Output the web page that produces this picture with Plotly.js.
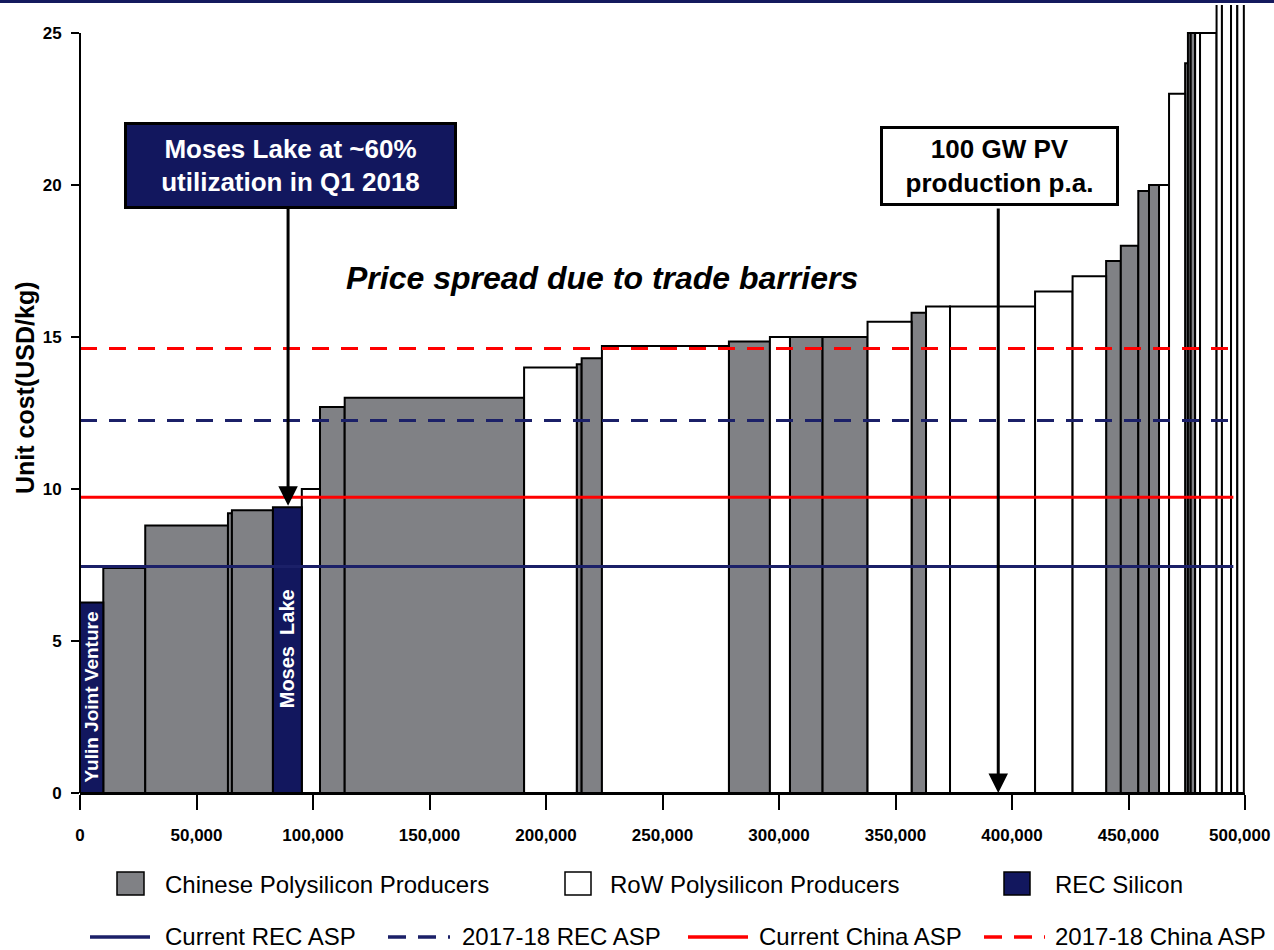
<!DOCTYPE html>
<html>
<head>
<meta charset="utf-8">
<script src="https://cdn.plot.ly/plotly-3.0.1.min.js"></script>
<style>
  html, body { margin: 0; padding: 0; background: #fff; }
  #topband { position: absolute; left: 0; top: 0; width: 1274px; height: 3px; background: #141a5e; z-index: 5; }
  #chart { position: absolute; left: 0; top: 0; width: 1274px; height: 950px; }
</style>
</head>
<body>
<div id="topband"></div>
<div id="chart"></div>
<script>
// ---- data ----
const capacity = [10000, 18000, 35500, 1700, 17600, 12400, 7800, 10600, 77000, 22600,
                  2100, 8700, 54500, 17600, 8600, 14000, 19300, 18900, 6200, 10300,
                  36500, 16100, 14400, 6300, 7500, 4600, 4300, 4300, 6900, 1200,
                  1200, 1900, 2100, 7100, 2300, 3900, 2700, 2800];
const unitCost = [6.27, 7.4, 8.8, 9.2, 9.3, 9.4, 10.0, 12.7, 13.0, 14.0,
                  14.1, 14.3, 14.7, 14.85, 15.0, 15.0, 15.0, 15.5, 15.8, 16.0,
                  16.0, 16.5, 17.0, 17.5, 18.0, 19.8, 20.0, 20.0, 23.0, 24.0,
                  25.0, 25.0, 25.0, 25.0, 30.0, 35.0, 40.0, 45.0];
const producerGroup = ['REC','CN','CN','CN','CN','REC','RoW','CN','CN','RoW',
                       'CN','CN','RoW','CN','RoW','CN','CN','RoW','CN','RoW',
                       'RoW','RoW','RoW','CN','CN','CN','CN','RoW','RoW','CN',
                       'CN','CN','RoW','RoW','RoW','RoW','RoW','RoW'];
const groupNames = {CN: 'Chinese Polysilicon Producers', RoW: 'RoW Polysilicon Producers', REC: 'REC Silicon'};
const aspNames  = ['Current REC ASP', '2017-18 REC ASP', 'Current China ASP', '2017-18 China ASP'];
const aspValues = [7.45, 12.25, 9.73, 14.62];
const aspExtent = [0, 495000];
const xTickVals = [0, 50000, 100000, 150000, 200000, 250000, 300000, 350000, 400000, 450000, 500000];
const xTickText = ['0', '50,000', '100,000', '150,000', '200,000', '250,000', '300,000', '350,000', '400,000', '450,000', '500,000'];
const yTickVals = [0, 5, 10, 15, 20, 25];
const recLabels = [{name: 'Yulin Joint Venture', idx: 0, y: 3.16, size: 19}, {name: 'Moses  Lake', idx: 5, y: 4.74, size: 20}];
const mosesArrowX = 89300, pvArrowX = 394100;

// ---- styles ----
const NAVY = '#12175e', GRAY = '#808185', RED = '#ff0000', LNAVY = '#1b2068';
const FONT = 'Liberation Sans, Arial, Helvetica, sans-serif';
const fills = {CN: GRAY, RoW: '#ffffff', REC: NAVY};

// cumulative positions
const starts = [];
let acc = 0;
capacity.forEach(c => { starts.push(acc); acc += c; });
const mids = capacity.map((c, i) => starts[i] + c / 2);

const traces = [];
['CN', 'RoW', 'REC'].forEach(g => {
  const idx = producerGroup.map((p, i) => p === g ? i : -1).filter(i => i >= 0);
  traces.push({
    type: 'bar', name: groupNames[g],
    x: idx.map(i => mids[i]), y: idx.map(i => unitCost[i]), width: idx.map(i => capacity[i]),
    marker: {color: fills[g], line: {color: '#000', width: 2}},
    showlegend: false, hoverinfo: 'skip'
  });
});
const aspStyles = [
  {color: LNAVY, dash: 'solid'}, {color: LNAVY, dash: '17px,12px'},
  {color: RED, dash: 'solid'}, {color: RED, dash: '17px,12px'}
];
aspNames.forEach((n, i) => {
  traces.push({
    type: 'scatter', mode: 'lines', name: n,
    x: aspExtent, y: [aspValues[i], aspValues[i]],
    line: {color: aspStyles[i].color, width: 3, dash: aspStyles[i].dash},
    showlegend: false, hoverinfo: 'skip'
  });
});

// pixel helpers for placement (paper coords)
const L = 80, R = 29, T = 5, B = 157, W = 1274, H = 950;
const pw = W - L - R, ph = H - T - B;
const YMAX = 25.92;
const px = v => (v - L) / pw;
const py = v => (H - B - v) / ph;
const pyData = v => (H - B - v) / (ph / YMAX);

const shapes = [
  {type: 'line', xref: 'paper', yref: 'y', x0: 0, x1: 0, y0: 0, y1: 25, line: {color: '#000', width: 2}}
];
const annotations = [];

// last x tick label kept inside the page (right-aligned at the edge)
const lastTick = xTickText.length - 1;
annotations.push({
  x: px(1272), y: py(835), xref: 'paper', yref: 'paper', xanchor: 'right', yanchor: 'middle', showarrow: false,
  text: xTickText[lastTick], font: {family: FONT, size: 17, color: '#000', weight: 700}
});

// REC bar labels
recLabels.forEach(r => {
  annotations.push({
    x: mids[r.idx], y: r.y, xref: 'x', yref: 'y', xanchor: 'center', yanchor: 'middle',
    text: r.name, textangle: -90, showarrow: false,
    font: {family: FONT, size: r.size, color: '#fff', weight: 700}
  });
});
// call-out boxes
annotations.push({
  x: px(290), y: py(165.3), xref: 'paper', yref: 'paper', xanchor: 'center', yanchor: 'middle', showarrow: false,
  text: 'Moses Lake at ~60%<br>utilization in Q1 2018',
  font: {family: FONT, size: 26, color: '#fff', weight: 700},
  bgcolor: NAVY, bordercolor: '#000', borderwidth: 3, borderpad: 0,
  width: 327, height: 81, align: 'center', valign: 'middle'
});
annotations.push({
  x: px(999), y: py(165.8), xref: 'paper', yref: 'paper', xanchor: 'center', yanchor: 'middle', showarrow: false,
  text: '100 GW PV<br>production p.a.',
  font: {family: FONT, size: 26, color: '#000', weight: 700},
  bgcolor: '#fff', bordercolor: '#000', borderwidth: 3, borderpad: 0,
  width: 233, height: 74, align: 'center', valign: 'middle'
});
// arrows
annotations.push({
  x: mosesArrowX, y: unitCost[5] + 0.05, xref: 'x', yref: 'y',
  ax: mosesArrowX, ay: pyData(207), axref: 'x', ayref: 'y',
  text: '', showarrow: true, arrowhead: 2, arrowsize: 1.3, arrowwidth: 3, arrowcolor: '#000', standoff: 0
});
annotations.push({
  x: pvArrowX, y: 0, xref: 'x', yref: 'y',
  ax: pvArrowX, ay: pyData(207), axref: 'x', ayref: 'y',
  text: '', showarrow: true, arrowhead: 2, arrowsize: 1.3, arrowwidth: 3, arrowcolor: '#000', standoff: 0
});
// price spread text
annotations.push({
  x: px(602), y: py(278), xref: 'paper', yref: 'paper', xanchor: 'center', yanchor: 'middle', showarrow: false,
  text: 'Price spread due to trade barriers',
  font: {family: FONT, size: 32, color: '#000', weight: 700, style: 'italic'}
});
// y-axis title
annotations.push({
  x: px(25), y: py(388), xref: 'paper', yref: 'paper', xanchor: 'center', yanchor: 'middle', showarrow: false, textangle: -90,
  text: 'Unit cost(USD/kg)',
  font: {family: FONT, size: 25, color: '#000', weight: 700}
});

// legend row 1 (boxes)
const boxLegend = [
  {g: 'CN', x0: 117, x1: 144, tx: 163},
  {g: 'RoW', x0: 565, x1: 591, tx: 608},
  {g: 'REC', x0: 1004, x1: 1030, tx: 1053}
];
boxLegend.forEach(b => {
  shapes.push({type: 'rect', xref: 'paper', yref: 'paper', x0: px(b.x0), x1: px(b.x1), y0: py(895), y1: py(872),
               fillcolor: fills[b.g], line: {color: '#000', width: 1.5}});
  annotations.push({x: px(b.tx), y: py(884), xref: 'paper', yref: 'paper', xanchor: 'left', yanchor: 'middle', showarrow: false,
                    text: groupNames[b.g], font: {family: FONT, size: 24, color: '#000'}});
});
// legend row 2 (lines)
const lineLegend = [
  {i: 0, x0: 90, x1: 150, tx: 163},
  {i: 1, x0: 388, x1: 450, tx: 460},
  {i: 2, x0: 688, x1: 748, tx: 757},
  {i: 3, x0: 984, x1: 1045, tx: 1053}
];
lineLegend.forEach(l => {
  shapes.push({type: 'line', xref: 'paper', yref: 'paper', x0: px(l.x0), x1: px(l.x1), y0: py(937), y1: py(937),
               line: {color: aspStyles[l.i].color, width: 3.5, dash: aspStyles[l.i].dash === 'solid' ? 'solid' : '18px,12px'}});
  annotations.push({x: px(l.tx), y: py(936), xref: 'paper', yref: 'paper', xanchor: 'left', yanchor: 'middle', showarrow: false,
                    text: aspNames[l.i], font: {family: FONT, size: 24, color: '#000'}});
});

const layout = {
  width: W, height: H,
  margin: {l: L, r: R, t: T, b: B, pad: 0},
  paper_bgcolor: '#fff', plot_bgcolor: '#fff',
  barmode: 'overlay', bargap: 0,
  showlegend: false,
  font: {family: FONT, color: '#000'},
  xaxis: {
    range: [0, 500000], tickvals: xTickVals,
    ticktext: xTickText.map((t, i) => i === lastTick ? '' : t),
    showline: true, linecolor: '#000', linewidth: 2, mirror: false,
    ticks: 'outside', ticklen: 15, tickwidth: 2, tickcolor: '#000',
    ticklabelstandoff: 11,
    tickfont: {family: FONT, size: 17, color: '#000', weight: 700},
    showgrid: false, zeroline: false, fixedrange: true
  },
  yaxis: {
    range: [0, YMAX], tickvals: yTickVals,
    showline: false,
    ticks: 'outside', ticklen: 8, tickwidth: 2, tickcolor: '#000',
    ticklabelstandoff: 6,
    tickfont: {family: FONT, size: 17, color: '#000', weight: 700},
    showgrid: false, zeroline: false, fixedrange: true
  },
  shapes: shapes,
  annotations: annotations
};

Plotly.newPlot('chart', traces, layout, {staticPlot: true, displayModeBar: false});
</script>
</body>
</html>
